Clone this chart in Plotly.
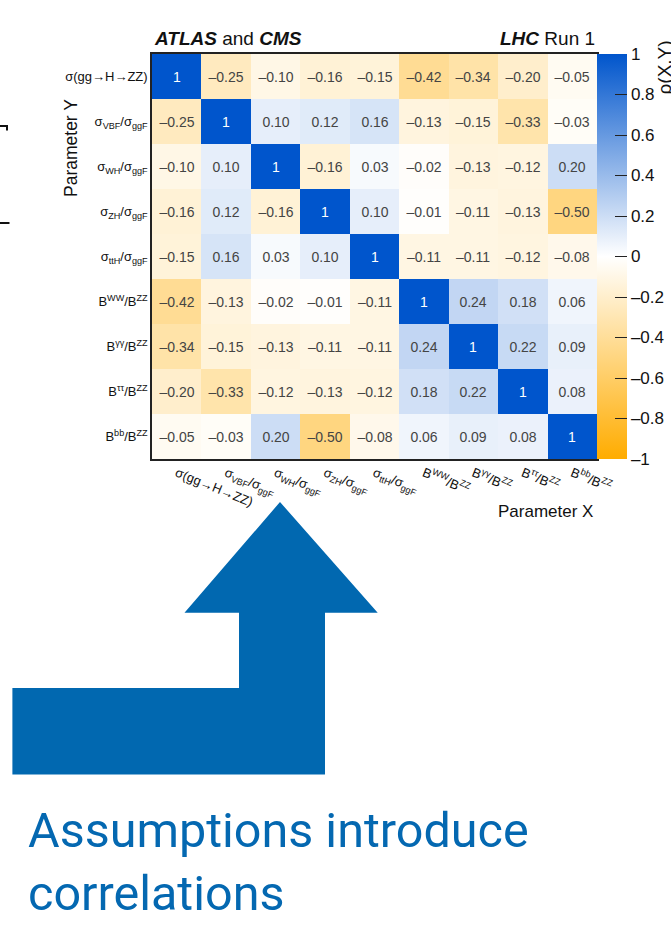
import plotly.graph_objects as go

# ---------------- data ----------------
params = [
    "σ(gg→H→ZZ)",
    "σ<sub>VBF</sub>/σ<sub>ggF</sub>",
    "σ<sub>WH</sub>/σ<sub>ggF</sub>",
    "σ<sub>ZH</sub>/σ<sub>ggF</sub>",
    "σ<sub>ttH</sub>/σ<sub>ggF</sub>",
    "B<sup>WW</sup>/B<sup>ZZ</sup>",
    "B<sup>γγ</sup>/B<sup>ZZ</sup>",
    "B<sup>ττ</sup>/B<sup>ZZ</sup>",
    "B<sup>bb</sup>/B<sup>ZZ</sup>",
]

row_ggZZ = [1.00, -0.25, -0.10, -0.16, -0.15, -0.42, -0.34, -0.20, -0.05]
row_VBF  = [-0.25, 1.00, 0.10, 0.12, 0.16, -0.13, -0.15, -0.33, -0.03]
row_WH   = [-0.10, 0.10, 1.00, -0.16, 0.03, -0.02, -0.13, -0.12, 0.20]
row_ZH   = [-0.16, 0.12, -0.16, 1.00, 0.10, -0.01, -0.11, -0.13, -0.50]
row_ttH  = [-0.15, 0.16, 0.03, 0.10, 1.00, -0.11, -0.11, -0.12, -0.08]
row_WW   = [-0.42, -0.13, -0.02, -0.01, -0.11, 1.00, 0.24, 0.18, 0.06]
row_gg   = [-0.34, -0.15, -0.13, -0.11, -0.11, 0.24, 1.00, 0.22, 0.09]
row_tt   = [-0.20, -0.33, -0.12, -0.13, -0.12, 0.18, 0.22, 1.00, 0.08]
row_bb   = [-0.05, -0.03, 0.20, -0.50, -0.08, 0.06, 0.09, 0.08, 1.00]

corr = [row_ggZZ, row_VBF, row_WH, row_ZH, row_ttH, row_WW, row_gg, row_tt, row_bb]

cbar_tickvals = [-1, -0.8, -0.6, -0.4, -0.2, 0, 0.2, 0.4, 0.6, 0.8, 1]
cbar_ticktext = ["–1", "–0.8", "–0.6", "–0.4", "–0.2", "0", "0.2", "0.4", "0.6", "0.8", "1"]


def fmt(v):
    if v == 1:
        return "1"
    s = f"{v:.2f}"
    return s.replace("-", "–")


cell_text = [[fmt(v) for v in row] for row in corr]

# ---------------- geometry helpers (decoration only) ----------------
W, H = 671, 936
PL, PR, PT, PB = 152, 597, 54, 459
PW, PH = PR - PL, PB - PT


def X(px):
    return (px - PL) / PW


def Y(py):
    return (PB - py) / PH


FONT = "Liberation Sans, Arial, Helvetica, sans-serif"
BLUE = "#0168b0"

fig = go.Figure()
fig.add_trace(go.Heatmap(
    z=corr,
    x=params,
    y=params,
    text=cell_text,
    texttemplate="%{text}",
    textfont=dict(family=FONT, size=14),
    zmin=-1, zmax=1,
    colorscale=[[0.0, "rgb(255,172,0)"], [0.5, "rgb(255,255,255)"], [1.0, "rgb(0,85,204)"]],
    xgap=0, ygap=0,
    colorbar=dict(
        x=1.0, xanchor="left", xpad=0,
        y=0.5, yanchor="middle", ypad=0,
        len=1.0, lenmode="fraction",
        thickness=30,
        outlinewidth=0,
        ticks="inside", ticklen=12, tickwidth=1.2, tickcolor="#222",
        tickvals=cbar_tickvals, ticktext=cbar_ticktext,
        tickfont=dict(family=FONT, size=17, color="#111"),
    ),
    hoverinfo="skip",
))

fig.update_xaxes(
    type="category",
    tickangle=22,
    tickfont=dict(family=FONT, size=13, color="#111"),
    showline=True, linecolor="#222", linewidth=1.5, mirror=True,
    ticks="", showgrid=False, zeroline=False,
)
fig.update_yaxes(
    type="category",
    autorange="reversed",
    tickfont=dict(family=FONT, size=13, color="#111"),
    showline=True, linecolor="#222", linewidth=1.5, mirror=True,
    ticks="", showgrid=False, zeroline=False,
)

annotations = [
    dict(text="<b><i>ATLAS</i></b> and <b><i>CMS</i></b>", x=X(152), y=Y(51),
         xanchor="left", yanchor="bottom", font=dict(family=FONT, size=19, color="#111")),
    dict(text="<b><i>LHC</i></b> Run 1", x=X(597), y=Y(51),
         xanchor="right", yanchor="bottom", font=dict(family=FONT, size=19, color="#111")),
    dict(text="Parameter Y", x=X(71), y=Y(148), textangle=-90,
         xanchor="center", yanchor="middle", font=dict(family=FONT, size=17.5, color="#111")),
    dict(text="Parameter X", x=X(595), y=Y(511),
         xanchor="right", yanchor="middle", font=dict(family=FONT, size=17, color="#111")),
    dict(text="ρ(X,Y)", x=X(664.5), y=Y(68), textangle=-90,
         xanchor="center", yanchor="middle", font=dict(family=FONT, size=19, color="#111")),
    dict(text="Assumptions introduce<br>correlations", x=X(26), y=Y(862),
         xanchor="left", yanchor="middle", align="left",
         font=dict(family="Roboto, sans-serif", size=48.5, color="#0468b1")),
]
for a in annotations:
    a.update(xref="paper", yref="paper", showarrow=False)

arrow_pts = [(184.5, 612.7), (280, 502), (377.7, 612.7), (325, 612.7), (325, 774.5),
             (12.4, 774.5), (12.4, 688), (239, 688), (239, 612.7)]
path = "M " + " L ".join(f"{X(a):.5f},{Y(b):.5f}" for a, b in arrow_pts) + " Z"

shapes = [
    dict(type="path", path=path, xref="paper", yref="paper",
         fillcolor=BLUE, line=dict(width=0), layer="above"),
    dict(type="path", xref="paper", yref="paper",
         path=f"M {X(0)},{Y(126)} L {X(7)},{Y(126)} L {X(7)},{Y(130.5)}",
         line=dict(color="#111", width=2)),
    dict(type="line", xref="paper", yref="paper",
         x0=X(0), y0=Y(223), x1=X(9.5), y1=Y(223),
         line=dict(color="#111", width=2)),
]

fig.update_layout(
    width=W, height=H,
    margin=dict(l=PL, r=W - PR, t=PT, b=H - PB, pad=0, autoexpand=False),
    paper_bgcolor="white", plot_bgcolor="white",
    annotations=annotations,
    shapes=shapes,
    showlegend=False,
)

fig.write_html("out.html", config={"displayModeBar": False},
               post_script="document.body.style.margin='0';")
